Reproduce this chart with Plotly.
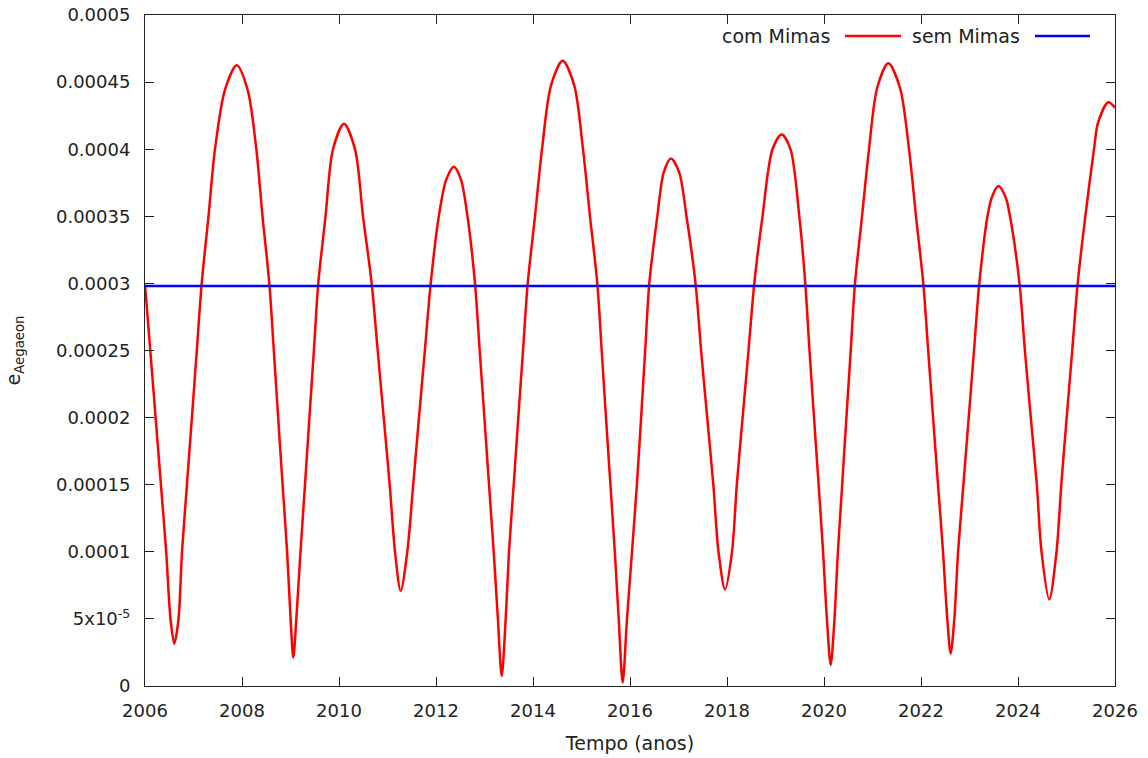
import plotly.graph_objects as go

# Eccentricity of Aegaeon over time (years), with and without Mimas
anos = [
    2006.000, 2006.109, 2006.219, 2006.328, 2006.437, 2006.526, 2006.604, 2006.691,
    2006.763, 2006.865, 2006.967, 2007.068, 2007.169, 2007.309, 2007.443, 2007.650,
    2007.891, 2008.115, 2008.295, 2008.423, 2008.563, 2008.656, 2008.746, 2008.837,
    2008.930, 2009.002, 2009.058, 2009.120, 2009.206, 2009.299, 2009.390, 2009.482,
    2009.573, 2009.722, 2009.876, 2010.103, 2010.330, 2010.495, 2010.674, 2010.798,
    2010.922, 2011.045, 2011.155, 2011.272, 2011.408, 2011.530, 2011.649, 2011.770,
    2011.891, 2012.058, 2012.211, 2012.371, 2012.515, 2012.649, 2012.804, 2012.901,
    2012.998, 2013.093, 2013.190, 2013.276, 2013.355, 2013.437, 2013.505, 2013.602,
    2013.697, 2013.794, 2013.891, 2014.041, 2014.186, 2014.372, 2014.612, 2014.850,
    2015.031, 2015.175, 2015.326, 2015.416, 2015.505, 2015.596, 2015.687, 2015.767,
    2015.849, 2015.938, 2016.041, 2016.142, 2016.229, 2016.313, 2016.398, 2016.563,
    2016.696, 2016.845, 2017.014, 2017.165, 2017.351, 2017.466, 2017.592, 2017.718,
    2017.825, 2017.959, 2018.103, 2018.202, 2018.322, 2018.443, 2018.563, 2018.732,
    2018.938, 2019.128, 2019.309, 2019.491, 2019.614, 2019.701, 2019.794, 2019.889,
    2019.981, 2020.060, 2020.138, 2020.216, 2020.287, 2020.375, 2020.462, 2020.551,
    2020.639, 2020.784, 2020.928, 2021.097, 2021.326, 2021.566, 2021.753, 2021.897,
    2022.047, 2022.148, 2022.249, 2022.351, 2022.454, 2022.542, 2022.612, 2022.687,
    2022.765, 2022.874, 2022.984, 2023.093, 2023.202, 2023.371, 2023.463, 2023.594,
    2023.743, 2023.835, 2024.031, 2024.142, 2024.264, 2024.388, 2024.485, 2024.645,
    2024.794, 2024.893, 2025.004, 2025.118, 2025.231, 2025.388, 2025.567, 2025.652,
    2025.862, 2026.000,
]

e_com_mimas = [
    2.99e-4, 2.5e-4, 2.0e-4, 1.5e-4, 1.0e-4, 5.0e-5, 3.15e-5, 5.0e-5,
    1.0e-4, 1.5e-4, 2.0e-4, 2.5e-4, 3.0e-4, 3.5e-4, 4.0e-4, 4.444e-4,
    4.625e-4, 4.444e-4, 4.0e-4, 3.5e-4, 3.0e-4, 2.5e-4, 2.0e-4, 1.5e-4,
    1.0e-4, 5.0e-5, 2.12e-5, 5.0e-5, 1.0e-4, 1.5e-4, 2.0e-4, 2.5e-4,
    3.0e-4, 3.5e-4, 4.0e-4, 4.19e-4, 4.0e-4, 3.5e-4, 3.0e-4, 2.5e-4,
    2.0e-4, 1.5e-4, 1.0e-4, 7.08e-5, 1.0e-4, 1.5e-4, 2.0e-4, 2.5e-4,
    3.0e-4, 3.5e-4, 3.773e-4, 3.87e-4, 3.773e-4, 3.5e-4, 3.0e-4, 2.5e-4,
    2.0e-4, 1.5e-4, 1.0e-4, 5.0e-5, 7.5e-6, 5.0e-5, 1.0e-4, 1.5e-4,
    2.0e-4, 2.5e-4, 3.0e-4, 3.5e-4, 4.0e-4, 4.476e-4, 4.66e-4, 4.476e-4,
    4.0e-4, 3.5e-4, 3.0e-4, 2.5e-4, 2.0e-4, 1.5e-4, 1.0e-4, 5.0e-5,
    2.6e-6, 5.0e-5, 1.0e-4, 1.5e-4, 2.0e-4, 2.5e-4, 3.0e-4, 3.5e-4,
    3.827e-4, 3.93e-4, 3.827e-4, 3.5e-4, 3.0e-4, 2.5e-4, 2.0e-4, 1.5e-4,
    1.0e-4, 7.2e-5, 1.0e-4, 1.5e-4, 2.0e-4, 2.5e-4, 3.0e-4, 3.5e-4,
    4.0e-4, 4.11e-4, 4.0e-4, 3.5e-4, 3.0e-4, 2.5e-4, 2.0e-4, 1.5e-4,
    1.0e-4, 5.0e-5, 1.56e-5, 5.0e-5, 1.0e-4, 1.5e-4, 2.0e-4, 2.5e-4,
    3.0e-4, 3.5e-4, 4.0e-4, 4.458e-4, 4.64e-4, 4.458e-4, 4.0e-4, 3.5e-4,
    3.0e-4, 2.5e-4, 2.0e-4, 1.5e-4, 1.0e-4, 5.0e-5, 2.42e-5, 5.0e-5,
    1.0e-4, 1.5e-4, 2.0e-4, 2.5e-4, 3.0e-4, 3.5e-4, 3.644e-4, 3.725e-4,
    3.644e-4, 3.5e-4, 3.0e-4, 2.5e-4, 2.0e-4, 1.5e-4, 1.0e-4, 6.45e-5,
    1.0e-4, 1.5e-4, 2.0e-4, 2.5e-4, 3.0e-4, 3.5e-4, 4.0e-4, 4.2e-4,
    4.35e-4, 4.31e-4,
]

anos_sem = [2006.0, 2026.0]
e_sem_mimas = [2.98e-4, 2.98e-4]

x_ticks = [2006, 2008, 2010, 2012, 2014, 2016, 2018, 2020, 2022, 2024, 2026]
y_ticks = [0, 5e-5, 1e-4, 1.5e-4, 2e-4, 2.5e-4, 3e-4, 3.5e-4, 4e-4, 4.5e-4, 5e-4]
y_labels = ["0", "5x10<sup>-5</sup>", "0.0001", "0.00015", "0.0002", "0.00025",
            "0.0003", "0.00035", "0.0004", "0.00045", "0.0005"]

FONT = "DejaVu Sans"
TXT = "#222222"

fig = go.Figure()
fig.add_trace(go.Scatter(x=anos, y=e_com_mimas, mode="lines", name="com Mimas",
                         line=dict(color="#ff0000", width=2.5, shape="spline", smoothing=0.85),
                         showlegend=False))
fig.add_trace(go.Scatter(x=anos_sem, y=e_sem_mimas, mode="lines", name="sem Mimas",
                         line=dict(color="#0000ff", width=2.5), showlegend=False))

# gnuplot-style key: text first, then the line sample
key_y = 0.9687
fig.add_annotation(xref="paper", yref="paper", x=0.7082, y=key_y, text="com Mimas",
                   showarrow=False, xanchor="right", yanchor="middle",
                   font=dict(family=FONT, size=19, color=TXT))
fig.add_shape(type="line", xref="paper", yref="paper", x0=0.7216, x1=0.7794,
              y0=key_y, y1=key_y, line=dict(color="#ff0000", width=2.5))
fig.add_annotation(xref="paper", yref="paper", x=0.9041, y=key_y, text="sem Mimas",
                   showarrow=False, xanchor="right", yanchor="middle",
                   font=dict(family=FONT, size=19, color=TXT))
fig.add_shape(type="line", xref="paper", yref="paper", x0=0.9175, x1=0.9742,
              y0=key_y, y1=key_y, line=dict(color="#0000ff", width=2.5))

axis_common = dict(showline=True, linecolor="#222222", linewidth=1, mirror="allticks",
                   ticks="inside", ticklen=9, tickcolor="#222222", tickwidth=1,
                   showgrid=False, zeroline=False, automargin=False,
                   tickfont=dict(family=FONT, size=18, color=TXT))

fig.update_xaxes(range=[2006, 2026], tickvals=x_ticks, ticklabelstandoff=8,
                 title=dict(text="Tempo (anos)", standoff=17,
                            font=dict(family=FONT, size=19, color=TXT)),
                 **axis_common)
fig.update_yaxes(range=[0, 5e-4], tickvals=y_ticks, ticktext=y_labels,
                 ticklabelstandoff=10,
                 title=dict(text="e<sub>Aegaeon</sub>", standoff=30,
                            font=dict(family=FONT, size=19, color=TXT)),
                 **axis_common)

fig.update_layout(width=1148, height=758, plot_bgcolor="white", paper_bgcolor="white",
                  margin=dict(l=145, r=33, t=15, b=72),
                  font=dict(family=FONT, size=18, color=TXT))

fig.write_html("out.html")
